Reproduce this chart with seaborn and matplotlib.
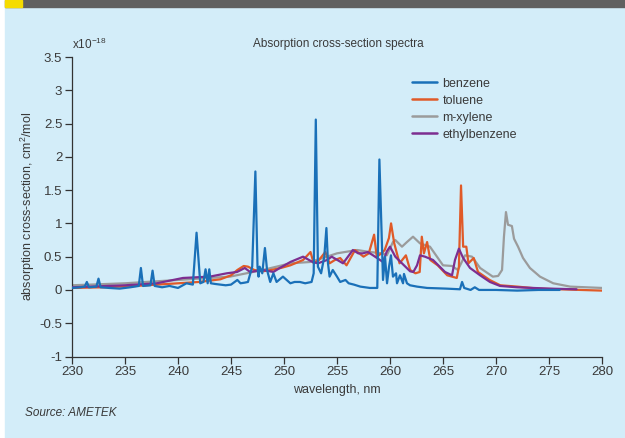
import matplotlib
matplotlib.use("Agg")
import matplotlib.pyplot as plt
import matplotlib.patches as mpatches
from matplotlib import font_manager
import seaborn as sns
import pandas as pd

# ---------------- data ----------------
series_names = ["benzene", "toluene", "m-xylene", "ethylbenzene"]
series_colors = ["#1a70b8", "#e05a28", "#9b9b9b", "#7d2e90"]

benzene_wl = [230.0, 230.8, 231.2, 231.4, 231.6, 232.3, 232.5, 232.7, 233.5, 234.5,
              235.5, 236.3, 236.5, 236.7, 237.4, 237.6, 237.8, 238.5, 239.2, 240.0,
              240.8, 241.4, 241.75, 242.1, 242.4, 242.6, 242.8, 242.95, 243.1, 243.5,
              244.5, 245.0, 245.6, 245.9, 246.3, 246.6, 247.0, 247.3, 247.5, 247.6,
              247.7, 247.95, 248.2, 248.4, 248.7, 249.0, 249.3, 249.9, 250.6, 251.0,
              251.5, 252.0, 252.6, 252.8, 253.0, 253.2, 253.5, 253.8, 254.0, 254.15,
              254.3, 254.6, 255.0, 255.3, 255.8, 256.1, 256.6, 257.2, 258.1, 258.8,
              259.0, 259.34, 259.53, 259.72, 259.91, 260.09, 260.28, 260.57, 260.66, 260.94,
              261.23, 261.32, 261.6, 261.89, 262.55, 263.5, 265.3, 266.6, 266.8, 267.0,
              267.6, 268.0, 268.4, 270.0, 272.0, 274.0, 276.0]
benzene_val = [0.03, 0.04, 0.05, 0.12, 0.04, 0.05, 0.17, 0.04, 0.03, 0.02,
               0.04, 0.06, 0.33, 0.06, 0.07, 0.29, 0.06, 0.04, 0.06, 0.03,
               0.10, 0.08, 0.86, 0.10, 0.12, 0.31, 0.10, 0.31, 0.10, 0.09,
               0.07, 0.08, 0.15, 0.10, 0.11, 0.12, 0.35, 1.78, 0.35, 0.20,
               0.35, 0.25, 0.63, 0.30, 0.12, 0.25, 0.12, 0.20, 0.10, 0.12,
               0.12, 0.10, 0.12, 0.25, 2.56, 0.35, 0.25, 0.50, 0.93, 0.40,
               0.20, 0.30, 0.20, 0.12, 0.15, 0.10, 0.08, 0.05, 0.03, 0.03,
               1.96, 0.15, 0.50, 0.10, 0.35, 0.52, 0.20, 0.25, 0.10, 0.22,
               0.10, 0.24, 0.10, 0.07, 0.05, 0.03, 0.02, 0.01, 0.12, 0.03,
               0.00, 0.04, 0.00, 0.00, -0.01, 0.00, 0.00]

toluene_wl = [230.0, 233.0, 236.0, 238.0, 240.0, 242.0, 244.0, 245.0, 245.6, 246.2,
              246.6, 247.2, 248.0, 248.8, 249.7, 250.6, 251.5, 251.8, 252.5, 252.8,
              253.3, 253.9, 254.3, 254.8, 255.3, 255.9, 256.7, 257.5, 258.0, 258.5,
              258.75, 259.2, 259.5, 259.9, 260.1, 260.4, 260.9, 261.5, 261.9, 262.4,
              262.8, 263.0, 263.2, 263.5, 263.8, 264.5, 265.4, 266.3, 266.5, 266.7,
              266.9, 267.2, 267.4, 267.9, 268.3, 269.4, 270.4, 272.0, 274.0, 276.0,
              280.0]
toluene_val = [0.03, 0.04, 0.06, 0.08, 0.10, 0.12, 0.16, 0.22, 0.30, 0.36,
               0.35, 0.30, 0.28, 0.30, 0.33, 0.37, 0.43, 0.45, 0.57, 0.40,
               0.45, 0.57, 0.40, 0.45, 0.48, 0.37, 0.60, 0.50, 0.55, 0.83,
               0.50, 0.55, 0.60, 0.78, 1.00, 0.70, 0.40, 0.52, 0.30, 0.25,
               0.27, 0.80, 0.55, 0.72, 0.45, 0.37, 0.22, 0.18, 0.35, 1.57,
               0.65, 0.65, 0.40, 0.48, 0.27, 0.15, 0.07, 0.05, 0.02, 0.01,
               -0.01]

xylene_wl = [230.0, 235.0, 240.0, 244.9, 248.0, 250.6, 252.45, 254.06, 255.0, 255.75,
             256.9, 258.1, 259.34, 259.7, 260.28, 260.5, 261.13, 261.6, 262.17, 262.83,
             263.77, 264.43, 265.0, 265.85, 266.4, 267.08, 267.74, 268.5, 269.7, 270.2,
             270.57, 270.75, 270.94, 271.13, 271.5, 271.7, 272.08, 272.55, 273.2, 274.15,
             275.4, 277.0, 280.0]
xylene_val = [0.07, 0.10, 0.15, 0.20, 0.30, 0.40, 0.42, 0.50, 0.55, 0.57,
              0.60, 0.57, 0.55, 0.52, 0.72, 0.75, 0.65, 0.72, 0.80, 0.70,
              0.65, 0.50, 0.37, 0.36, 0.30, 0.52, 0.50, 0.33, 0.20, 0.21,
              0.30, 0.80, 1.17, 0.98, 0.96, 0.77, 0.65, 0.48, 0.33, 0.20,
              0.10, 0.05, 0.03]

ethyl_wl = [230.0, 235.0, 238.0, 240.47, 243.0, 244.6, 245.57, 246.3, 246.8, 248.0,
            249.0, 249.6, 250.6, 251.8, 252.7, 253.2, 254.06, 254.5, 255.57, 256.5,
            257.0, 257.45, 257.9, 258.4, 259.34, 259.7, 260.0, 260.5, 261.13, 261.9,
            262.2, 262.55, 262.83, 263.3, 264.06, 265.19, 265.85, 266.13, 266.5, 266.9,
            267.55, 268.5, 269.43, 270.38, 272.0, 275.0, 277.6]
ethyl_val = [0.04, 0.07, 0.10, 0.18, 0.20, 0.25, 0.27, 0.33, 0.27, 0.30,
             0.27, 0.33, 0.42, 0.50, 0.42, 0.40, 0.45, 0.50, 0.40, 0.60,
             0.55, 0.55, 0.57, 0.52, 0.42, 0.58, 0.65, 0.50, 0.40, 0.28,
             0.27, 0.37, 0.52, 0.50, 0.45, 0.27, 0.22, 0.45, 0.62, 0.48,
             0.33, 0.22, 0.12, 0.06, 0.04, 0.02, 0.01]

x_ticks = [230, 235, 240, 245, 250, 255, 260, 265, 270, 275, 280]
y_ticks = [-1, -0.5, 0, 0.5, 1, 1.5, 2, 2.5, 3, 3.5]
y_tick_labels = ["-1", "-0.5", "0", "0.5", "1", "1.5", "2", "2.5", "3", "3.5"]

# ---------------- fonts ----------------
sns.set_theme(style="white")
avail = {f.name for f in font_manager.fontManager.ttflist}
main_font = "Liberation Sans Narrow" if "Liberation Sans Narrow" in avail else "Liberation Sans"
plt.rcParams["font.family"] = [main_font, "DejaVu Sans"]
plt.rcParams["mathtext.default"] = "regular"
plt.rcParams["axes.unicode_minus"] = False

text_color = "#3a3a3a"

# ---------------- data frame ----------------
frames = []
for name, wl, val in zip(series_names,
                         [benzene_wl, toluene_wl, xylene_wl, ethyl_wl],
                         [benzene_val, toluene_val, xylene_val, ethyl_val]):
    frames.append(pd.DataFrame({"wavelength": wl, "value": val, "compound": name}))
df = pd.concat(frames, ignore_index=True)

# ---------------- figure ----------------
W, H = 625, 438
fig = plt.figure(figsize=(W / 100, H / 100), dpi=100, facecolor="white")

bg = "#d3edf9"
fig.patches.append(mpatches.Rectangle((5 / W, 0), 1 - 5 / W, 1 - 7 / H,
                                      transform=fig.transFigure, color=bg, zorder=-10))
fig.patches.append(mpatches.Rectangle((5 / W, 1 - 7 / H), 1 - 5 / W, 7 / H,
                                      transform=fig.transFigure, color="#606060", zorder=-10))
fig.patches.append(mpatches.Rectangle((5 / W, 1 - 7 / H), 17 / W, 7 / H,
                                      transform=fig.transFigure, color="#f5dc00", zorder=-9))

left, right = 72 / W, 602 / W
top, bottom = 1 - 57 / H, 1 - 356.5 / H
ax = fig.add_axes([left, bottom, right - left, top - bottom])
ax.set_zorder(5)
ax.set_facecolor("none")

palette = dict(zip(series_names, series_colors))
sns.lineplot(data=df, x="wavelength", y="value", hue="compound",
             hue_order=series_names, palette=palette, estimator=None,
             sort=False, linewidth=1.6, ax=ax, legend=False)

# layering: gray bottom, then orange, purple, blue
z = {"benzene": 5, "toluene": 3, "m-xylene": 2, "ethylbenzene": 4}
for line, name in zip(ax.lines, series_names):
    line.set_zorder(z[name])
    line.set_solid_joinstyle("round")

ax.set_xlim(230, 280)
ax.set_ylim(-1, 3.5)
ax.set_xticks(x_ticks)
ax.set_xticklabels([str(t) for t in x_ticks])
ax.set_yticks(y_ticks)
ax.set_yticklabels(y_tick_labels)

for s in ["top", "right"]:
    ax.spines[s].set_visible(False)
for s in ["left", "bottom"]:
    ax.spines[s].set_color("#333333")
    ax.spines[s].set_linewidth(0.9)
ax.tick_params(axis="both", which="major", direction="out", length=5, width=0.9,
               color="#333333", labelsize=9.5, labelcolor=text_color, pad=2,
               left=True, bottom=True)

ax.set_xlabel("wavelength, nm", fontsize=9, color=text_color, labelpad=4)
ax.set_ylabel("absorption cross-section, cm$^2$/mol", fontsize=9, color=text_color)
ax.yaxis.set_label_coords((37 - 72) / 530, 0.5)

# legend
handles = [plt.Line2D([], [], color=c, lw=1.8) for c in series_colors]
leg = ax.legend(handles, series_names, loc="upper left", bbox_to_anchor=(0.632, 0.948),
                frameon=False, fontsize=9, handlelength=2.0, handletextpad=0.45,
                labelspacing=0.4, borderaxespad=0)
for t in leg.get_texts():
    t.set_color(text_color)

# texts
fig.text(338 / W, 1 - 44 / H, "Absorption cross-section spectra", ha="center",
         va="center", fontsize=8.5, color=text_color)
fig.text(72 / W, 1 - 44 / H, "x10$^{-18}$", ha="left", va="center",
         fontsize=8.5, color=text_color)
fig.text(25 / W, 1 - 413 / H, "Source: AMETEK", ha="left", va="center",
         fontsize=8.5, color=text_color, style="italic")

fig.savefig("out.png", dpi=100, facecolor=fig.get_facecolor())
